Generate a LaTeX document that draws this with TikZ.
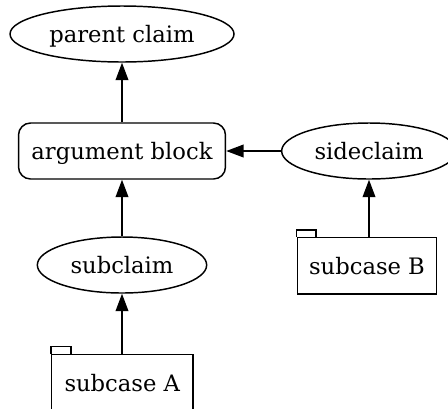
\documentclass[tikz,border=0pt]{standalone}
\usepackage{fontspec}
\setmainfont{DejaVu Serif}
\usetikzlibrary{shapes.geometric,arrows.meta}
% zero-width text so an ellipse keeps its set size
\newcommand\claimtext[1]{\makebox[0pt]{#1}}

\begin{document}
\begin{tikzpicture}[x=0.75pt,y=-0.75pt,
  every node/.style={font=\fontsize{17}{20}\selectfont, inner sep=0pt, text depth=0pt},
  outline/.style={draw=black, line width=1.1pt},
  claim/.style={outline, ellipse, minimum height=42pt},
  block/.style={outline, rectangle, rounded corners=9pt, minimum height=42pt},
  casebox/.style={outline, rectangle, minimum height=42.3pt},
  support/.style={line width=1.1pt, -{Triangle[length=13pt,width=9.5pt]}}
]
\useasboundingbox (0,0) rectangle (448,408);
\clip (0,0) rectangle (448,408);

% claims and the argument block
\node[claim, minimum width=168pt]   (parent) at (122,34)  {\claimtext{parent claim}};
\node[block, minimum width=155.2pt] (arg)    at (122,151) {argument block};
\node[claim, minimum width=131pt]   (side)   at (369,151) {\claimtext{sideclaim}};
\node[claim, minimum width=127pt]   (sub)    at (122,265) {\claimtext{subclaim}};

% case boxes with a small tab on the upper left
\node[casebox, minimum width=104.5pt] (caseB) at (367,265.7)   {subcase B};
\node[casebox, minimum width=106pt]   (caseA) at (122.3,382.5) {subcase A};
\draw[outline] (caseB.north west) -- ++(0,-7) -- ++(19.4,0) -- ++(0,7);
\draw[outline] (caseA.north west) -- ++(0,-7) -- ++(20,0) -- ++(0,7);

% support arrows
\draw[support] (arg.north) -- (parent.south);
\draw[support] (side.west) -- (arg.east);
\draw[support] (sub.north) -- (arg.south);
\draw[support] (sub.south |- caseA.north) -- (sub.south);
\draw[support] (side.south |- caseB.north) -- (side.south);
\end{tikzpicture}
\end{document}
